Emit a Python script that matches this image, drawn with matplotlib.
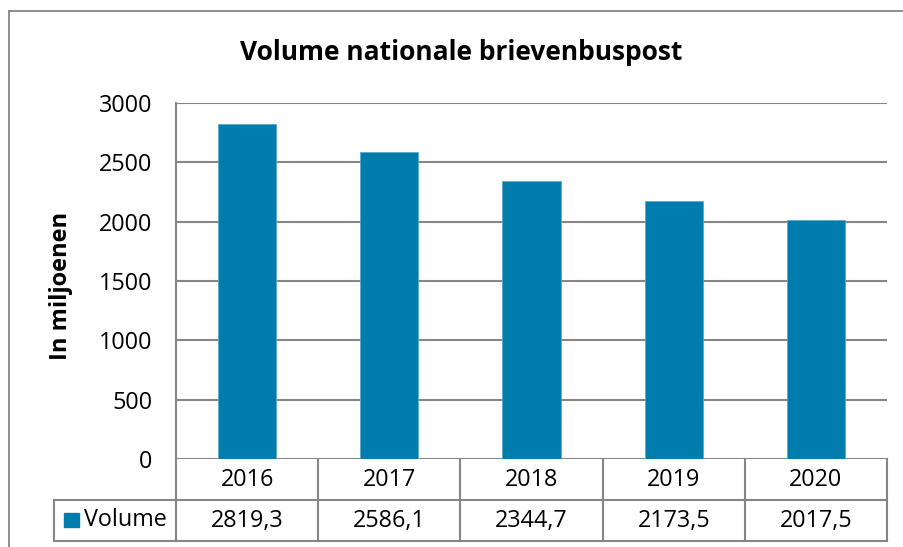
import matplotlib
matplotlib.use("Agg")
import matplotlib.pyplot as plt
from matplotlib.patches import Rectangle
from matplotlib.lines import Line2D

plt.rcParams['font.family'] = ['Open Sans', 'DejaVu Sans']

# data
years = ['2016', '2017', '2018', '2019', '2020']
volume = [2819.3, 2586.1, 2344.7, 2173.5, 2017.5]
volume_labels = ['2819,3', '2586,1', '2344,7', '2173,5', '2017,5']
series_name = 'Volume'
yticks = [0, 500, 1000, 1500, 2000, 2500, 3000]

bar_color = '#007dac'
grid_color = '#868686'
fs = 16.8

W, H = 904, 547
fig = plt.figure(figsize=(W / 100, H / 100), dpi=100)


def px(x, y):
    # pixel coords (top-left origin) to figure fraction
    return x / W, 1 - y / H


# outer chart frame (runs off the right and bottom edges)
fig.add_artist(Line2D([9 / W, 9 / W], [1 - 11 / H, 0], color=grid_color, lw=1.3))
fig.add_artist(Line2D([9 / W, 1], [1 - 11 / H, 1 - 11 / H], color=grid_color, lw=1.3))

left, right, top, bottom = 176, 887, 103, 459
ax = fig.add_axes([left / W, 1 - bottom / H, (right - left) / W, (bottom - top) / H])

x = range(len(years))
ax.bar(x, volume, width=0.41, color=bar_color, edgecolor='#5aa9cc', linewidth=0.6, zorder=3)
ax.set_xlim(-0.5, len(years) - 0.5)
ax.set_ylim(0, 3000)
ax.set_yticks(yticks)
ax.set_yticklabels([str(t) for t in yticks], fontsize=fs)
ax.tick_params(axis='y', length=0, pad=17)
ax.set_xticks([])
for t in yticks:
    ax.axhline(t, color=grid_color, lw=1.5, zorder=1)
for s in ['top', 'right', 'bottom']:
    ax.spines[s].set_visible(False)
ax.spines['left'].set_color(grid_color)
ax.spines['left'].set_linewidth(1.5)

fig.text(61 / W, 1 - 286 / H, 'In miljoenen', fontsize=17, fontweight='bold',
         rotation=90, ha='center', va='center')
fig.text(461 / W, 1 - 52 / H, 'Volume nationale brievenbuspost', fontsize=19,
         fontweight='bold', ha='center', va='center')

# data table under the axis
row1_top, row1_bot, row2_bot = 459, 500, 541
tab_left = 54
cell_w = (right - left) / len(years)
lw = 1.5
# horizontal lines
fig.add_artist(Line2D([left / W, right / W], [1 - row1_bot / H] * 2, color=grid_color, lw=lw))
fig.add_artist(Line2D([tab_left / W, left / W], [1 - row1_bot / H] * 2, color=grid_color, lw=lw))
fig.add_artist(Line2D([tab_left / W, right / W], [1 - row2_bot / H] * 2, color=grid_color, lw=lw))
# vertical lines
fig.add_artist(Line2D([tab_left / W] * 2, [1 - row1_bot / H, 1 - row2_bot / H], color=grid_color, lw=lw))
for i in range(len(years) + 1):
    xx = (left + i * cell_w) / W
    fig.add_artist(Line2D([xx, xx], [1 - row1_top / H, 1 - row2_bot / H], color=grid_color, lw=lw))

for i, (yr, lab) in enumerate(zip(years, volume_labels)):
    cx = (left + (i + 0.5) * cell_w) / W
    fig.text(cx, 1 - (row1_top + row1_bot) / 2 / H, yr, fontsize=fs, ha='center', va='center')
    fig.text(cx, 1 - (row1_bot + row2_bot) / 2 / H, lab, fontsize=fs, ha='center', va='center')

# legend key inside the table
fig.add_artist(Rectangle(px(64, 527), 15 / W, 14 / H, color=bar_color))
fig.text(84 / W, 1 - (row1_bot + row2_bot) / 2 / H, series_name, fontsize=fs, ha='left', va='center')

fig.savefig('out.png', dpi=100)
